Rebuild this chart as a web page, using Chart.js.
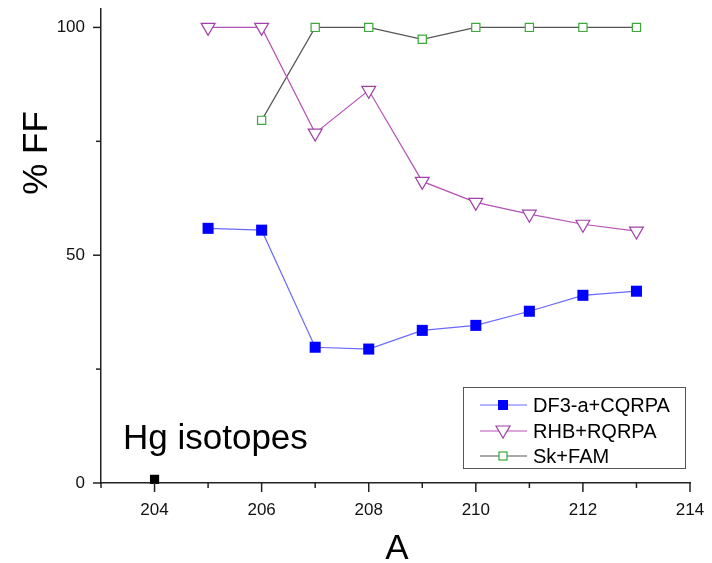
<!DOCTYPE html>
<html>
<head>
<meta charset="utf-8">
<script src="https://cdn.jsdelivr.net/npm/chart.js@4"></script>
<style>
  html, body { margin: 0; padding: 0; background: #fff; }
  #wrap { width: 712px; height: 563px; }
</style>
</head>
<body>
<div id="wrap"><canvas id="ffChart" width="712" height="563"></canvas></div>
<script>
// mass numbers A
const massA = [205, 206, 207, 208, 209, 210, 211, 212, 213];
const df3Values = [55.9, 55.5, 29.8, 29.4, 33.5, 34.6, 37.7, 41.2, 42.1];
const rhbValues = [100, 100, 76.8, 86.2, 66.2, 61.6, 59.0, 56.8, 55.3];
const skMass = [206, 207, 208, 209, 210, 211, 212, 213];
const skValues = [79.6, 100, 100, 97.4, 100, 100, 100, 100];
const hgMass = [204];
const hgValues = [0.8];

const xTicks = [204, 206, 208, 210, 212, 214];
const xMinor = [203, 205, 207, 209, 211, 213];
const yTicks = [0, 50, 100];
const yMinor = [25, 75];

const seriesNames = ['DF3-a+CQRPA', 'RHB+RQRPA', 'Sk+FAM'];

const toPts = (xs, ys) => xs.map((x, i) => ({ x: x, y: ys[i] }));

// drop the automatic label padding so the plot box stays where we want it
const noPad = s => {
  s.paddingTop = 0; s.paddingBottom = 0;
  s.paddingLeft = 0; s.paddingRight = 0;
};

// tick marks, axis titles, note and legend
const extras = {
  id: 'extras',
  afterDraw(chart) {
    const ctx = chart.ctx;
    const xs = chart.scales.x, ys = chart.scales.y;
    const area = chart.chartArea;
    ctx.save();
    ctx.strokeStyle = '#222';
    ctx.lineWidth = 1.5;
    xTicks.concat(xMinor).forEach(v => {
      const px = xs.getPixelForValue(v);
      const len = xTicks.includes(v) ? 9 : 5;
      ctx.beginPath();
      ctx.moveTo(px, area.bottom);
      ctx.lineTo(px, area.bottom + len);
      ctx.stroke();
    });
    yTicks.concat(yMinor).forEach(v => {
      const py = ys.getPixelForValue(v);
      const len = yTicks.includes(v) ? 8 : 5;
      ctx.beginPath();
      ctx.moveTo(area.left, py);
      ctx.lineTo(area.left - len, py);
      ctx.stroke();
    });

    ctx.fillStyle = '#000';
    // y title
    ctx.save();
    ctx.translate(47, 153);
    ctx.rotate(-Math.PI / 2);
    ctx.font = '35px "Liberation Sans", Arial, sans-serif';
    ctx.textAlign = 'center';
    ctx.textBaseline = 'alphabetic';
    ctx.fillText('% FF', 0, 0);
    ctx.restore();
    // x title
    ctx.font = '35px "Liberation Sans", Arial, sans-serif';
    ctx.textAlign = 'center';
    ctx.textBaseline = 'alphabetic';
    ctx.fillText('A', 397, 559);
    // note
    ctx.textAlign = 'left';
    ctx.fillText('Hg isotopes', 123, 449);

    // legend
    ctx.strokeStyle = '#555';
    ctx.lineWidth = 1;
    ctx.strokeRect(463.5, 387.5, 222, 81);
    const rowsY = [405, 431, 456];
    chart.data.datasets.slice(0, 3).forEach((ds, i) => {
      const y = rowsY[i];
      ctx.strokeStyle = ds.borderColor;
      ctx.lineWidth = 1;
      ctx.beginPath();
      ctx.moveTo(480, y);
      ctx.lineTo(527, y);
      ctx.stroke();
      ctx.fillStyle = '#fff';
      ctx.strokeStyle = ds.pointBorderColor;
      ctx.lineWidth = 1.2;
      if (i === 0) {
        ctx.fillStyle = ds.pointBackgroundColor;
        ctx.fillRect(498, y - 5, 10, 10);
      } else if (i === 1) {
        ctx.beginPath();
        ctx.moveTo(496, y - 5);
        ctx.lineTo(510, y - 5);
        ctx.lineTo(503, y + 7);
        ctx.closePath();
        ctx.fill();
        ctx.stroke();
      } else {
        ctx.fillRect(499, y - 4, 8, 8);
        ctx.strokeRect(499, y - 4, 8, 8);
      }
      ctx.fillStyle = '#000';
      ctx.font = '20px "Liberation Sans", Arial, sans-serif';
      ctx.textAlign = 'left';
      ctx.textBaseline = 'middle';
      ctx.fillText(seriesNames[i], 533, y + 1);
    });
    ctx.restore();
  }
};

new Chart(document.getElementById('ffChart'), {
  type: 'line',
  data: {
    datasets: [
      {
        label: seriesNames[0],
        data: toPts(massA, df3Values),
        borderColor: '#6a6aff',
        borderWidth: 1.2,
        pointStyle: 'rect',
        pointRadius: 7.8,
        pointBackgroundColor: '#0000ff',
        pointBorderColor: '#0000ff',
        pointBorderWidth: 0
      },
      {
        label: seriesNames[1],
        data: toPts(massA, rhbValues),
        borderColor: '#b552b5',
        borderWidth: 1.2,
        pointStyle: 'triangle',
        pointRotation: 180,
        pointRadius: 8,
        pointBackgroundColor: '#fff',
        pointBorderColor: '#a040a8',
        pointBorderWidth: 1.2
      },
      {
        label: seriesNames[2],
        data: toPts(skMass, skValues),
        borderColor: '#555',
        borderWidth: 1.2,
        pointStyle: 'rect',
        pointRadius: 5.8,
        pointBackgroundColor: '#fff',
        pointBorderColor: '#3aa83a',
        pointBorderWidth: 1.2
      },
      {
        label: 'Hg',
        data: toPts(hgMass, hgValues),
        showLine: false,
        borderColor: '#000',
        pointStyle: 'rect',
        pointRadius: 6.5,
        pointBackgroundColor: '#000',
        pointBorderWidth: 0
      }
    ]
  },
  options: {
    responsive: false,
    animation: false,
    clip: false,
    layout: { padding: { top: 3, right: 22, left: 0, bottom: 0 } },
    plugins: {
      legend: { display: false },
      tooltip: { enabled: false }
    },
    elements: { line: { tension: 0 } },
    scales: {
      x: {
        type: 'linear',
        min: 203,
        max: 214,
        grid: { display: false, drawTicks: false, tickLength: 0 },
        border: { display: true, color: '#222', width: 1.5 },
        afterBuildTicks: s => { s.ticks = xTicks.map(v => ({ value: v })); },
        afterFit: s => { s.height = 80; noPad(s); },
        ticks: {
          padding: 17,
          color: '#111',
          maxRotation: 0,
          font: { family: '"Liberation Sans", Arial, sans-serif', size: 17 }
        }
      },
      y: {
        min: 0,
        max: 104,
        grid: { display: false, drawTicks: false, tickLength: 0 },
        border: { display: true, color: '#222', width: 1.5 },
        afterBuildTicks: s => { s.ticks = yTicks.map(v => ({ value: v })); },
        afterFit: s => { s.width = 101; noPad(s); },
        ticks: {
          padding: 16,
          color: '#111',
          font: { family: '"Liberation Sans", Arial, sans-serif', size: 17 }
        }
      }
    }
  },
  plugins: [extras]
});
</script>
</body>
</html>
